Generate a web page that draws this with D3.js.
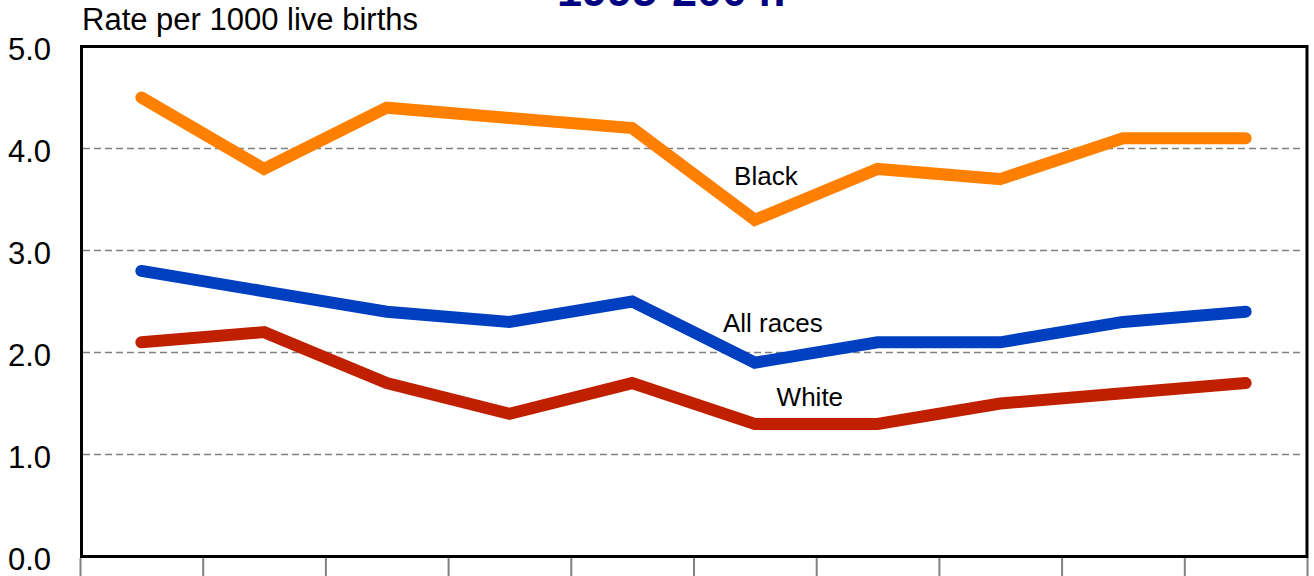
<!DOCTYPE html>
<html>
<head>
<meta charset="utf-8">
<script src="https://cdn.jsdelivr.net/npm/d3@7"></script>
<style>
  html, body { margin: 0; padding: 0; background: #fff; }
  svg { display: block; font-family: Arial, "Liberation Sans", sans-serif; }
</style>
</head>
<body>
<svg id="chart" width="1314" height="576"></svg>
<script>
const years = ["1995","1996","1997","1998","1999","2000","2001","2002","2003","2004"];
const black = [4.5, 3.8, 4.4, 4.3, 4.2, 3.3, 3.8, 3.7, 4.1, 4.1];
const allRaces = [2.8, 2.6, 2.4, 2.3, 2.5, 1.9, 2.1, 2.1, 2.3, 2.4];
const white = [2.1, 2.2, 1.7, 1.4, 1.7, 1.3, 1.3, 1.5, 1.6, 1.7];
const yTicks = [0, 1, 2, 3, 4, 5];
const gridTicks = [1, 2, 3, 4];
const seriesNames = ["Black", "All races", "White"];
const titleText = "1995-2004:";
const yLabel = "Rate per 1000 live births";

(function () {
const svg = d3.select("#chart");
const pLeft = 80, pRight = 1307, pTop = 46.5, pBottom = 556.5;

const x = d3.scaleBand().domain(years).range([pLeft, pRight]);
const xEdge = d3.scaleLinear().domain([0, years.length]).range([pLeft, pRight]);
const y = d3.scaleLinear().domain([0, 5]).range([pBottom, pTop]);
const cx = d => x(d) + x.bandwidth() / 2;

// title (cut off at top, as in the reference)
svg.append("text")
  .attr("x", 672).attr("y", 6)
  .attr("text-anchor", "middle")
  .attr("font-size", 45).attr("font-weight", "bold")
  .attr("fill", "#000080")
  .text(titleText);

// y label
svg.append("text")
  .attr("x", 82).attr("y", 30)
  .attr("font-size", 31)
  .attr("fill", "#000")
  .text(yLabel);

// gridlines
svg.append("g").selectAll("line").data(gridTicks).join("line")
  .attr("x1", pLeft + 3).attr("x2", pRight - 5)
  .attr("y1", d => y(d)).attr("y2", d => y(d))
  .attr("stroke", "#808080").attr("stroke-width", 1.5)
  .attr("stroke-dasharray", "7,4");

// y axis labels
const yAxis = d3.axisLeft(y).tickValues(yTicks).tickFormat(d3.format(".1f")).tickSize(0).tickPadding(29);
const gy = svg.append("g").attr("transform", `translate(${pLeft},0)`).call(yAxis);
gy.select(".domain").remove();
gy.selectAll("text").attr("font-size", 31).attr("fill", "#000").attr("font-family", "Arial, 'Liberation Sans', sans-serif").attr("dy", "0.42em");

// bottom ticks at category boundaries
const xAxis = d3.axisBottom(xEdge).tickValues(d3.range(0, years.length + 1)).tickFormat("").tickSize(20);
const gx = svg.append("g").attr("transform", `translate(0,${pBottom + 1.5})`).call(xAxis);
gx.select(".domain").remove();
gx.selectAll("line").attr("stroke", "#808080").attr("stroke-width", 2);

// lines
const line = d3.line().x((d, i) => cx(years[i])).y(d => y(d));
const series = [
  { name: "White", values: white, color: "#C02000" },
  { name: "All races", values: allRaces, color: "#0040C0" },
  { name: "Black", values: black, color: "#FF8000" }
];
svg.append("g").selectAll("path").data(series).join("path")
  .attr("d", d => line(d.values))
  .attr("fill", "none")
  .attr("stroke", d => d.color)
  .attr("stroke-width", 12)
  .attr("stroke-linecap", "round")
  .attr("stroke-linejoin", "miter");

// frame
svg.append("rect")
  .attr("x", pLeft + 1.5).attr("y", pTop)
  .attr("width", pRight - pLeft - 1.5).attr("height", pBottom - pTop)
  .attr("fill", "none").attr("stroke", "#000").attr("stroke-width", 3);

// series labels
const labelPos = [
  { name: seriesNames[0], idx: 5, val: black[5], dx: 11, dy: -35 },
  { name: seriesNames[1], idx: 5, val: allRaces[5], dx: 18, dy: -31 },
  { name: seriesNames[2], idx: 5, val: white[5], dx: 55, dy: -18 }
];
svg.append("g").selectAll("text").data(labelPos).join("text")
  .attr("x", d => cx(years[d.idx]) + d.dx)
  .attr("y", d => y(d.val) + d.dy)
  .attr("text-anchor", "middle")
  .attr("font-size", 26)
  .attr("fill", "#000")
  .text(d => d.name);
})();
</script>
</body>
</html>
